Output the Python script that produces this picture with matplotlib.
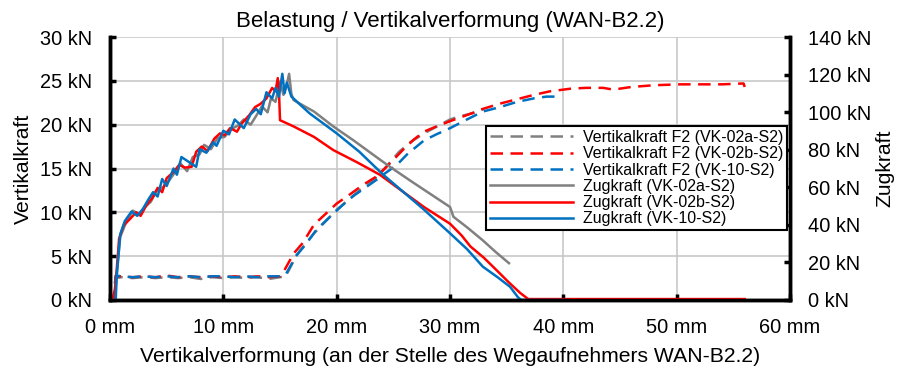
import matplotlib
matplotlib.use("Agg")
import matplotlib.pyplot as plt

plt.rcParams['font.family'] = ['Liberation Sans', 'DejaVu Sans']

# ---- Vertikalkraft F2 (left axis, kN) ----
vk02a_x = [0, 0.3, 0.5, 1, 2, 3, 4, 5, 6, 7, 8, 9, 10, 11, 12, 13, 14, 15, 15.5,
           16.5, 18.0, 20.0, 22.0, 23.5, 24.5, 25.5, 26.5, 27.7, 29.0, 30.0, 31.0, 32.0, 33.0]
vk02a_y = [0, 0, 2.5, 2.6, 2.5, 2.6, 2.5, 2.6, 2.5, 2.6, 2.4, 2.6, 2.5, 2.6, 2.5, 2.6, 2.4, 2.6, 2.7,
           5.2, 7.6, 10.3, 12.5, 14.0, 15.4, 16.9, 18.0, 19.0, 19.9, 20.6, 21.0, 21.3, 21.8]

vk02b_x = [0, 0.3, 0.5, 1, 2, 3, 4, 5, 6, 7, 8, 9, 10, 11, 12, 13, 14, 15, 15.3,
           16.2, 17.0, 18.0, 19.0, 20.0, 21.0, 22.4, 23.4, 24.1, 25.0, 25.9, 26.8, 27.7, 28.8,
           30.0, 31.5, 32.9, 34.4, 35.9, 37.4, 38.8, 40.6, 42.0, 43.5, 44.4, 46.0, 48.0, 50.3,
           52.0, 54.0, 55.9, 56.0]
vk02b_y = [0, 0, 2.7, 2.7, 2.6, 2.7, 2.6, 2.8, 2.6, 2.7, 2.6, 2.7, 2.6, 2.7, 2.6, 2.7, 2.6, 2.7, 3.2,
           5.3, 6.5, 8.6, 9.8, 11.0, 11.9, 13.2, 14.0, 14.8, 16.0, 17.2, 18.3, 19.2, 19.8,
           20.4, 21.1, 21.8, 22.4, 22.9, 23.4, 23.8, 24.1, 24.2, 24.2, 24.0, 24.3, 24.5, 24.6,
           24.6, 24.6, 24.7, 24.3]

vk10_x = [0, 0.3, 0.5, 1, 2, 3, 4, 5, 6, 7, 8, 9, 10, 11, 12, 13, 14, 15, 15.5,
          16.4, 17.3, 18.2, 19.5, 20.5, 21.5, 22.4, 23.5, 24.1, 25.3, 26.2, 27.7, 28.8,
          30.0, 31.5, 32.9, 34.4, 35.9, 37.4, 38.5, 39.6]
vk10_y = [0, 0, 2.8, 2.7, 2.6, 2.7, 2.6, 2.7, 2.6, 2.7, 2.6, 2.7, 2.7, 2.6, 2.7, 2.6, 2.7, 2.7, 2.9,
          5.0, 6.4, 8.0, 9.6, 10.8, 11.9, 12.7, 13.7, 14.3, 15.4, 16.6, 18.2, 18.9,
          19.6, 20.6, 21.5, 22.0, 22.6, 23.0, 23.2, 23.2]

# ---- Zugkraft (right axis, kN) ----
zk02a_x = [0, 0.4, 0.6, 0.9, 1.4, 2.0, 2.6, 3.1, 3.6, 4.1, 4.7, 5.2, 5.7, 6.2, 6.8, 7.3, 7.9,
           8.3, 8.9, 9.5, 10.1, 10.7, 11.3, 11.8, 12.4, 12.8, 13.4, 13.9, 14.2, 14.6, 15.0,
           15.3, 15.6, 15.8, 16.0, 16.2, 18.0, 19.7, 21.5, 23.5, 24.7, 26.5, 28.5, 30.0,
           30.3, 31.5, 32.9, 34.0, 35.2]
zk02a_y = [0, 0, 14.0, 33.6, 41.1, 47.6, 45.7, 49.5, 52.3, 57.9, 60.2, 63.5, 67.7, 72.8, 68.6,
           76.1, 77.5, 82.6, 80.3, 86.3, 86.8, 91.0, 92.9, 96.1, 93.3, 97.1, 103.1, 99.9, 107.3,
           105.5, 116.2, 109.2, 114.8, 120.4, 109.7, 106.4, 100.3, 92.4, 84.9, 76.1, 70.9, 63.5,
           55.5, 49.5, 44.3, 38.7, 31.7, 25.7, 19.6]

zk02b_x = [0, 0.3, 0.5, 0.8, 1.2, 1.8, 2.3, 2.7, 3.2, 3.7, 4.2, 4.6, 5.0, 5.6, 6.1, 6.6, 7.2,
           7.6, 8.1, 8.6, 9.2, 9.7, 10.1, 10.6, 11.2, 11.6, 12.3, 12.8, 13.3, 13.8, 14.3, 14.6,
           14.8, 14.9, 15.0, 16.2, 18.0, 19.7, 21.8, 23.8, 25.7, 27.7, 30.0, 31.0, 31.8, 33.0,
           34.1, 35.2, 36.2, 36.9, 56.0]
zk02b_y = [0, 0, 9.3, 32.7, 39.7, 43.4, 46.7, 44.8, 50.4, 54.1, 59.7, 57.4, 64.9, 68.1, 71.9,
           70.5, 70.9, 78.9, 81.7, 79.3, 85.9, 88.7, 87.7, 91.5, 89.6, 93.8, 98.5, 102.7, 104.5,
           107.3, 112.9, 111.1, 118.1, 112.0, 95.7, 92.4, 86.8, 79.8, 73.3, 66.7, 58.3, 49.5,
           40.6, 34.5, 28.5, 22.4, 15.9, 9.3, 3.7, 0.5, 0.5]

zk10_x = [0, 0.5, 0.6, 0.9, 1.3, 1.9, 2.4, 2.9, 3.4, 3.8, 4.2, 4.6, 5.0, 5.6, 5.9, 6.3, 7.6,
          7.9, 8.5, 9.1, 9.4, 10.0, 10.5, 11.0, 11.8, 12.4, 12.9, 13.3, 13.8, 14.3, 14.6, 14.9,
          15.2, 15.4, 15.6, 16.0, 17.6, 20.0, 22.0, 24.1, 26.0, 27.7, 30.0, 31.5, 32.9, 34.2,
          35.3, 36.0, 36.3, 40.2]
zk10_y = [0, 0, 14.0, 35.0, 42.0, 47.1, 44.8, 48.5, 53.7, 57.4, 55.1, 64.4, 60.7, 70.0, 66.7,
          76.1, 70.9, 80.3, 78.4, 84.0, 82.1, 90.1, 88.2, 96.1, 91.5, 98.9, 101.7, 98.9, 110.6,
          107.3, 112.9, 108.3, 120.4, 110.1, 115.7, 108.3, 99.4, 88.7, 78.9, 66.7, 56.9, 48.1,
          35.5, 27.1, 17.7, 12.1, 7.0, 1.4, 0, 0]

GRAY, RED, BLUE = '#808080', '#ff0000', '#0070c0'
LW = 1.8
DASH = (5, 3)

fig = plt.figure(figsize=(8.99, 3.69), dpi=100)
ax = fig.add_axes([0.1224, 0.187, 0.7564, 0.7127])
ax2 = ax.twinx()

ax.set_xlim(0, 60)
ax.set_ylim(0, 30)
ax2.set_ylim(0, 140)

ax.set_xticks(range(0, 61, 10))
ax.set_xticklabels([f"{v} mm" for v in range(0, 61, 10)])
ax.set_yticks(range(0, 31, 5))
ax.set_yticklabels([f"{v} kN" for v in range(0, 31, 5)])
ax2.set_yticks(range(0, 141, 20))
ax2.set_yticklabels([f"{v} kN" for v in range(0, 141, 20)])

ax.grid(True, color='#c8c8c8', linewidth=1.2)
ax.set_axisbelow(True)

for a in (ax, ax2):
    a.spines['top'].set_visible(False)
    for s in ('left', 'right', 'bottom'):
        a.spines[s].set_linewidth(2.5)
        a.spines[s].set_color('black')
    a.tick_params(direction='in', length=4, width=2.5, labelsize=14.4, pad=13)

h = []
h += ax.plot(vk02a_x, vk02a_y, color=GRAY, lw=LW, dashes=DASH, label='Vertikalkraft F2 (VK-02a-S2)', clip_on=False)
h += ax.plot(vk02b_x, vk02b_y, color=RED, lw=LW, dashes=DASH, label='Vertikalkraft F2 (VK-02b-S2)', clip_on=False)
h += ax.plot(vk10_x, vk10_y, color=BLUE, lw=LW, dashes=DASH, label='Vertikalkraft F2 (VK-10-S2)', clip_on=False)
h += ax2.plot(zk02a_x, zk02a_y, color=GRAY, lw=LW, label='Zugkraft (VK-02a-S2)', clip_on=False)
h += ax2.plot(zk02b_x, zk02b_y, color=RED, lw=LW, label='Zugkraft (VK-02b-S2)', clip_on=False)
h += ax2.plot(zk10_x, zk10_y, color=BLUE, lw=LW, label='Zugkraft (VK-10-S2)', clip_on=False)

leg = ax2.legend(handles=h, loc='upper right', bbox_to_anchor=(0.9956, 0.6616), fontsize=11.5,
                 frameon=True, fancybox=False, edgecolor='black', framealpha=1,
                 handlelength=5.2, handletextpad=0.6, labelspacing=0.08, borderpad=0.25,
                 borderaxespad=0)
leg.get_frame().set_linewidth(1.5)

ax.set_title('Belastung / Vertikalverformung (WAN-B2.2)', fontsize=16, pad=7)
ax.set_xlabel('Vertikalverformung (an der Stelle des Wegaufnehmers WAN-B2.2)', fontsize=15.2, labelpad=7)
ax.set_ylabel('Vertikalkraft', fontsize=15.2, labelpad=5)
ax2.set_ylabel('Zugkraft', fontsize=15.2, labelpad=3)

fig.savefig('out.png', dpi=100)
